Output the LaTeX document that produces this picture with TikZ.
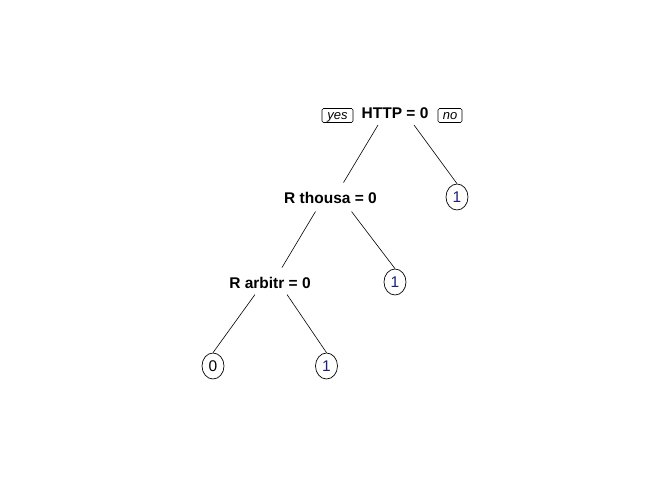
\documentclass[tikz,border=0pt]{standalone}
\usepackage{fontspec}
\setmainfont{Liberation Sans}
\usetikzlibrary{calc,shapes.geometric}
\definecolor{leafblue}{RGB}{28,32,120}
\tikzset{
  split/.style={font=\fontsize{15.5}{18}\selectfont\bfseries, inner sep=0pt},
  leaf/.style={draw, ellipse, minimum width=22pt, minimum height=26pt, inner sep=0pt, font=\fontsize{15.5}{17}\selectfont, line width=0.7pt},
  tag/.style={draw, rounded corners=1.5pt, inner xsep=0pt, inner ysep=2pt, text height=9pt, text depth=1pt, font=\fontsize{13}{14}\selectfont\itshape, line width=0.6pt},
  branch/.style={line width=0.6pt}
}
\begin{document}
\begin{tikzpicture}[x=1pt,y=-1pt]
\useasboundingbox (0,0) rectangle (672,480);
\node[split] (h) at (395,113) {HTTP = 0};
\node[tag, minimum width=31pt] (yes) at (337.5,115.5) {yes};
\node[tag, minimum width=24pt] (no) at (450,115.5) {no};
\node[split] (rt) at (330.5,197.5) {R thousa = 0};
\node[leaf, text=leafblue] (l1) at (457,197) {1};
\node[split] (ra) at (270,282.5) {R arbitr = 0};
\node[leaf, text=leafblue] (l2) at (395,282) {1};
\node[leaf] (l3) at (213,366) {0};
\node[leaf, text=leafblue] (l4) at (326.5,366) {1};
\draw[branch] ($(h)+(-17,12)$) -- ($(rt)+(13,-15)$);
\draw[branch] ($(h)+(19,12)$) -- (l1.north);
\draw[branch] ($(rt)+(-15,14)$) -- ($(ra)+(12,-15)$);
\draw[branch] ($(rt)+(21,14)$) -- (l2.north);
\draw[branch] ($(ra)+(-15,12)$) -- (l3.north);
\draw[branch] ($(ra)+(17,12)$) -- (l4.north);
\end{tikzpicture}
\end{document}
